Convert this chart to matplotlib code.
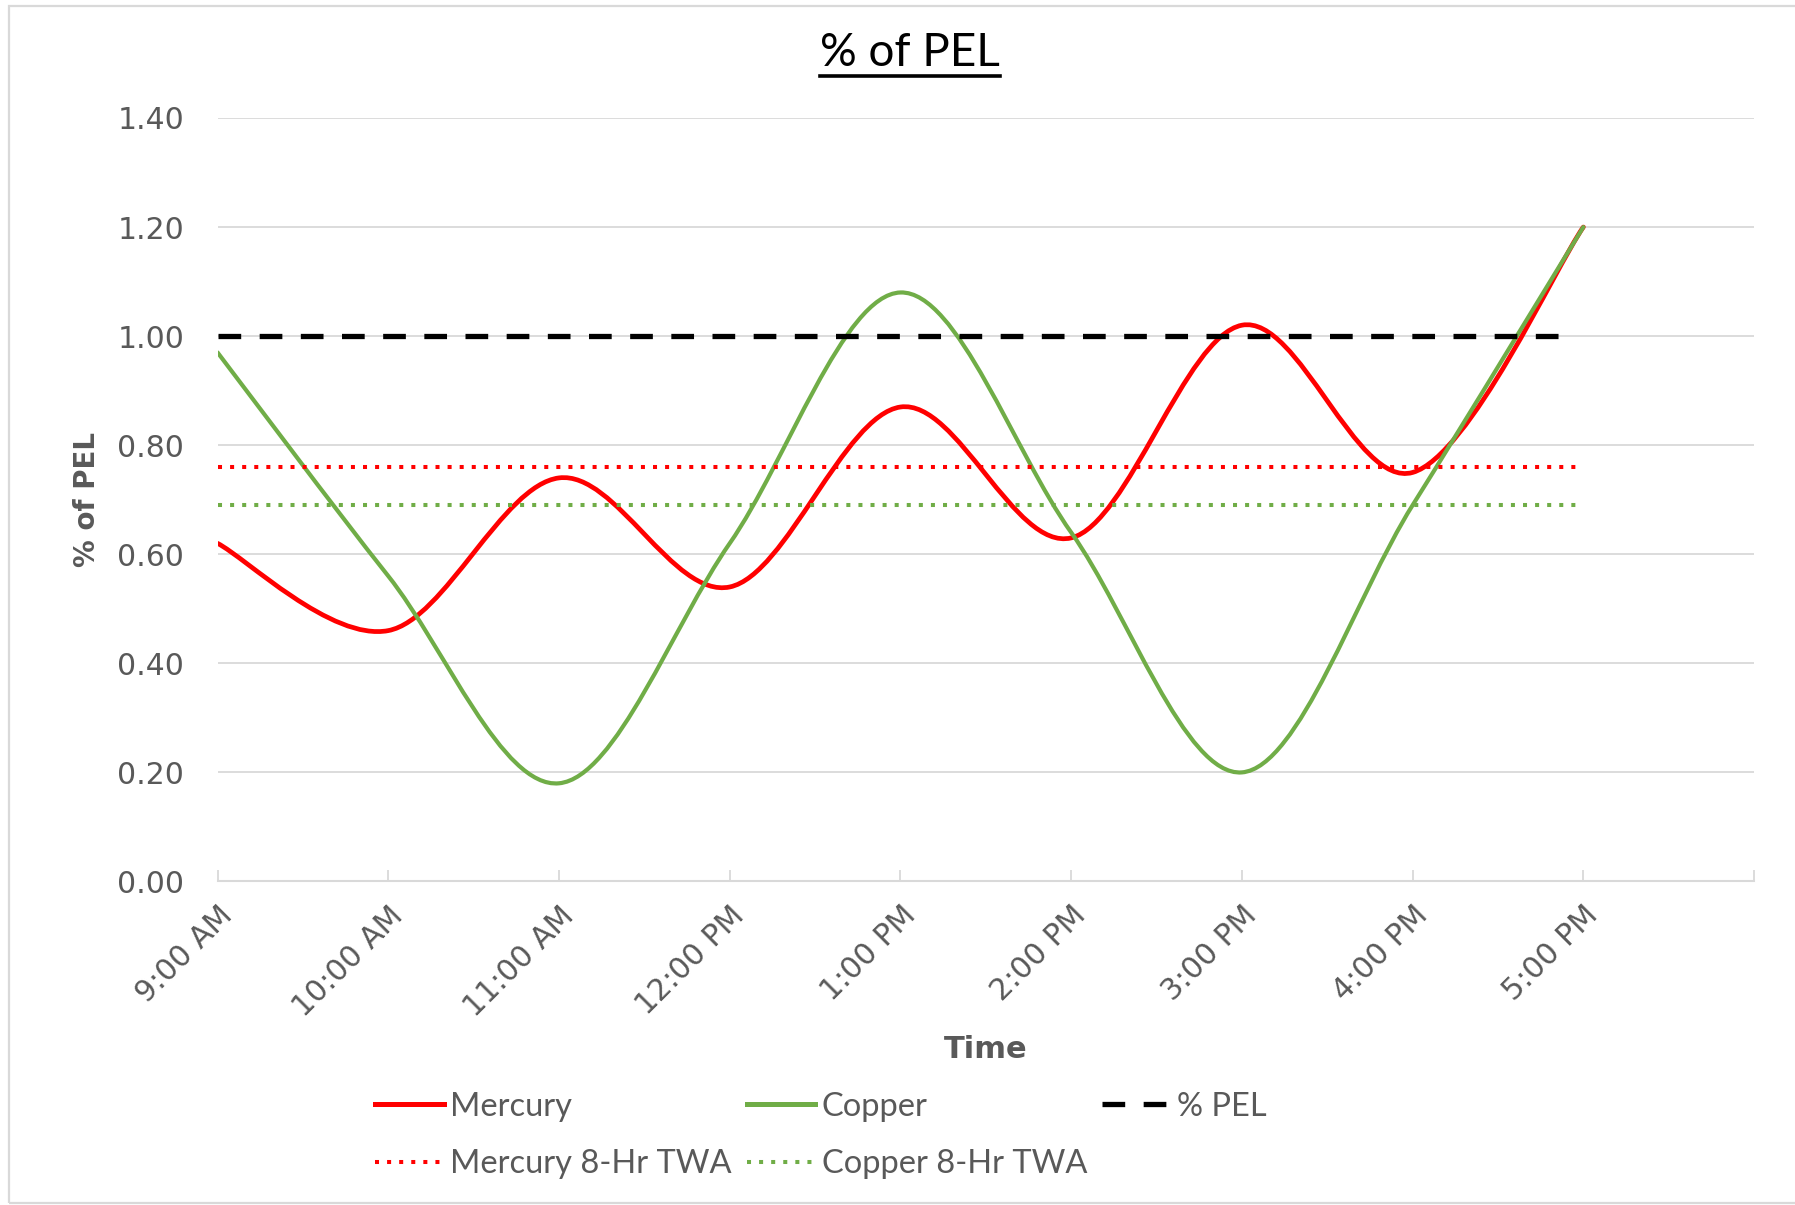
import matplotlib
matplotlib.use('Agg')
import matplotlib.pyplot as plt
from matplotlib.path import Path
from matplotlib.patches import PathPatch, Rectangle
from matplotlib.lines import Line2D

# Datos
horas = ['9:00 AM', '10:00 AM', '11:00 AM', '12:00 PM', '1:00 PM',
         '2:00 PM', '3:00 PM', '4:00 PM', '5:00 PM']
mercurio = [0.62, 0.46, 0.74, 0.54, 0.87, 0.63, 1.02, 0.75, 1.20]
cobre = [0.97, 0.56, 0.18, 0.62, 1.08, 0.64, 0.20, 0.69, 1.20]
pel = 1.00
twa_mercurio = 0.76
twa_cobre = 0.69

GRIS = '#595959'
ROJO = '#FF0000'
VERDE = '#70AD47'
REJILLA = '#D9D9D9'
PUNTOS = (0, (1, 2))
GUIONES = (0, (4.3, 3.5))


def curva_suave(xs, ys):
    # línea suavizada tipo Excel (bezier cúbica por tramos)
    pts = list(zip(xs, ys))
    n = len(pts)
    verts = [pts[0]]
    codes = [Path.MOVETO]
    for i in range(n - 1):
        p0 = pts[i - 1] if i > 0 else pts[i]
        p1 = pts[i]
        p2 = pts[i + 1]
        p3 = pts[i + 2] if i + 2 < n else pts[i + 1]
        c1 = (p1[0] + (p2[0] - p0[0]) / 6, p1[1] + (p2[1] - p0[1]) / 6)
        c2 = (p2[0] - (p3[0] - p1[0]) / 6, p2[1] - (p3[1] - p1[1]) / 6)
        verts += [c1, c2, p2]
        codes += [Path.CURVE4] * 3
    return Path(verts, codes)


fig = plt.figure(figsize=(17.95, 12.05), dpi=100)
ax = fig.add_axes([0.1212, 0.2685, 0.856, 0.6336])

x = list(range(len(horas)))

# Líneas de referencia
ax.plot([x[0], x[-1]], [twa_mercurio] * 2, color=ROJO, lw=2.9,
        linestyle=PUNTOS)
ax.plot([x[0], x[-1]], [twa_cobre] * 2, color=VERDE, lw=2.9,
        linestyle=PUNTOS)
ax.plot([x[0], x[-1] - 0.05], [pel] * 2, color='black', lw=3.8,
        linestyle=GUIONES)

# Series suavizadas
ax.add_patch(PathPatch(curva_suave(x, mercurio), fill=False, edgecolor=ROJO,
                       lw=3.4, capstyle='round', joinstyle='round'))
ax.add_patch(PathPatch(curva_suave(x, cobre), fill=False, edgecolor=VERDE,
                       lw=3.0, capstyle='round', joinstyle='round'))

# Ejes
ax.set_xlim(0, 9)
ax.set_ylim(0, 1.4)
ax.set_yticks([0, 0.2, 0.4, 0.6, 0.8, 1.0, 1.2, 1.4])
ax.set_yticklabels(['%.2f' % v for v in ax.get_yticks()])
ax.set_xticks(range(10))
ax.set_xticklabels(horas + [''], rotation=45, ha='right', va='top',
                   rotation_mode='anchor')
ax.grid(axis='y', color=REJILLA, lw=1.3)
ax.set_axisbelow(True)
for s in ['top', 'right', 'left']:
    ax.spines[s].set_visible(False)
ax.spines['bottom'].set_color(REJILLA)
ax.spines['bottom'].set_linewidth(1.5)
ax.tick_params(axis='y', length=0, pad=24, labelsize=21.5, labelcolor=GRIS)
ax.tick_params(axis='x', direction='in', length=8, width=1.3, color=REJILLA,
               pad=14, labelsize=21.5, labelcolor=GRIS)

ax.set_ylabel('% of PEL', fontsize=20, fontweight='bold', color=GRIS,
              labelpad=12)
fig.text(0.549, 0.129, 'Time', fontsize=22, fontweight='bold', color=GRIS,
         ha='center', va='center')

# Título subrayado
titulo = fig.text(0.507, 0.956, '% of PEL', fontsize=33, color='black',
                  family='Lato', ha='center', va='center')
fig.canvas.draw()
bb = titulo.get_window_extent().transformed(fig.transFigure.inverted())
fig.add_artist(Line2D([bb.x0, bb.x1], [0.937, 0.937], color='black', lw=2.6,
                      transform=fig.transFigure))

# Leyenda
manejadores = [
    Line2D([], [], color=ROJO, lw=3.6),
    Line2D([], [], color=ROJO, lw=2.9, linestyle=PUNTOS),
    Line2D([], [], color=VERDE, lw=3.6),
    Line2D([], [], color=VERDE, lw=2.9, linestyle=PUNTOS),
    Line2D([], [], color='black', lw=3.8, linestyle=GUIONES),
]
etiquetas = ['Mercury', 'Mercury 8-Hr TWA', 'Copper', 'Copper 8-Hr TWA',
             '% PEL']
leg = fig.legend(manejadores, etiquetas, ncol=3, loc='upper left',
                 bbox_to_anchor=(0.209, 0.094), frameon=False,
                 prop={'family': 'Lato', 'size': 23.5}, handlelength=2.1,
                 handletextpad=0.2, columnspacing=0.45, labelspacing=0.85,
                 borderpad=0, borderaxespad=0)
for t in leg.get_texts():
    t.set_color(GRIS)

# Borde del área del gráfico
fig.add_artist(Rectangle((9 / 1795, 2 / 1205), 1.1, 1197 / 1205, fill=False,
                         edgecolor=REJILLA, lw=1.6,
                         transform=fig.transFigure))

fig.savefig('out.png', dpi=100)
